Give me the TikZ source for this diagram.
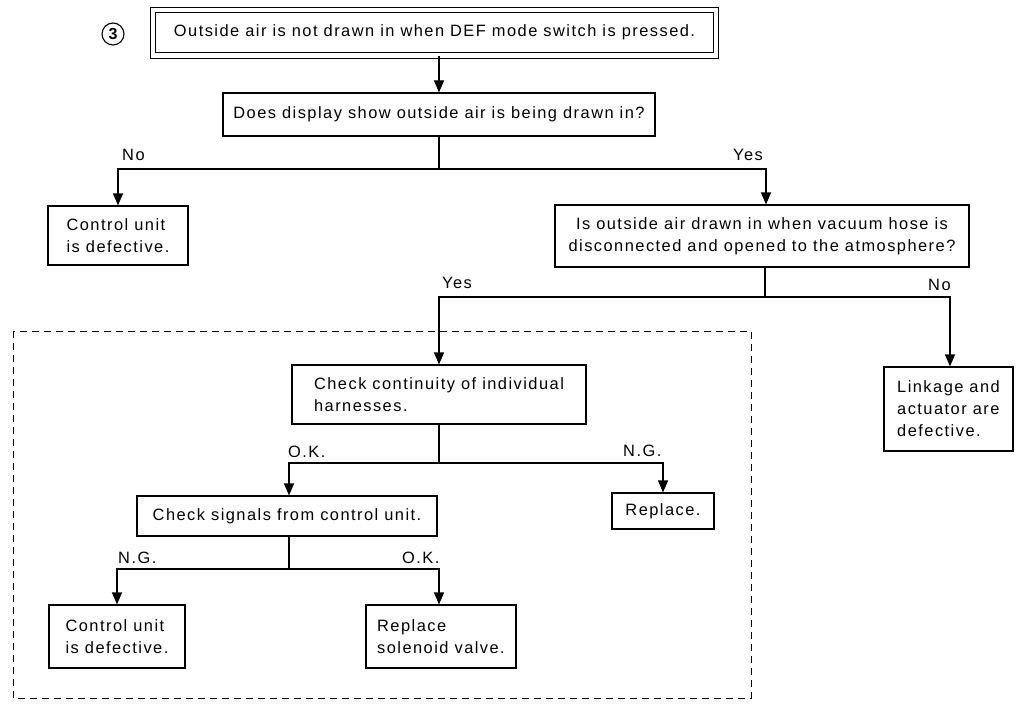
\documentclass[tikz,border=0pt]{standalone}
\usepackage{fontspec}
\setmainfont{Liberation Sans}[LetterSpace=9]
\usetikzlibrary{arrows.meta}
\newcommand{\fs}{\fontsize{16.4}{22}\selectfont}
\tikzset{
  box/.style={draw, line width=1.2pt, align=left, inner sep=0pt, font=\fs},
  lbl/.style={anchor=base west, inner sep=0pt, font=\fs},
  ln/.style={line width=1.2pt},
  arr/.style={line width=1.2pt, -{Triangle[width=10pt,length=12pt]}},
  frame/.style={line width=1pt, dash pattern=on 7pt off 5pt}
}
\begin{document}
\begin{tikzpicture}[x=1pt,y=-1pt]
\useasboundingbox[fill=white] (0,0) rectangle (1016,706);
% dashed frame
\draw[frame] (13,331) rectangle (751,698);
% circled number
\node[draw, circle, line width=1.1pt, inner sep=0pt, minimum size=22pt, font=\fontsize{16}{16}\selectfont\bfseries] (num) at (113,34) {3};
% boxes
\node[box, double, double distance=4.5pt, line width=1pt, minimum width=563pt, minimum height=45.5pt] (top) at (434.5,32.75) {Outside air is not drawn in when DEF mode switch is pressed.};
\node[box, minimum width=432pt, minimum height=43pt] (q1) at (439,114.5) {Does display show outside air is being drawn in?};
\node[box, minimum width=140pt, minimum height=59pt] (cu1) at (118,235.5) {Control unit\\is defective.};
\node[box, align=center, minimum width=414pt, minimum height=62pt] (q2) at (762,236) {Is outside air drawn in when vacuum hose is\\disconnected and opened to the atmosphere?};
\node[box, minimum width=129pt, minimum height=84pt] (link) at (948.5,409) {Linkage and\\actuator are\\defective.};
\node[box, minimum width=294pt, minimum height=59pt] (cont) at (439,394.5) {Check continuity of individual\\harnesses.};
\node[box, minimum width=102pt, minimum height=36pt] (repl) at (663,511) {Replace.};
\node[box, minimum width=300pt, minimum height=40pt] (sig) at (287,516) {Check signals from control unit.};
\node[box, minimum width=136pt, minimum height=63pt] (cu2) at (117,636.5) {Control unit\\is defective.};
\node[box, minimum width=150pt, minimum height=63pt] (sol) at (441,636.5) {Replace\\solenoid valve.};
% junctions
\coordinate (j1) at (439,169);
\coordinate (j2) at (765,297);
\coordinate (j3) at (439,463);
\coordinate (j4) at (289,569);
% connectors
\draw[arr] (q1.north |- top.south) -- (q1.north);
\draw[ln] (q1.south) -- (j1);
\draw[arr] (j1) -| (cu1.north);
\draw[arr] (j1) -| ([xshift=4pt]q2.north);
\draw[ln] (q2.south -| j2) -- (j2);
\draw[arr] (j2) -| ([xshift=1.5pt]link.north);
\draw[arr] (j2) -| (cont.north);
\draw[ln] (cont.south) -- (j3);
\draw[arr] (j3) -| (j4 |- sig.north);
\draw[arr] (j3) -| (repl.north);
\draw[ln] (j4 |- sig.south) -- (j4);
\draw[arr] (j4) -| (cu2.north);
\draw[arr] (j4) -| (j1 |- sol.north);
% labels
\node[lbl] (lno1) at (122,160) {No};
\node[lbl] (lyes1) at (733,160) {Yes};
\node[lbl] (lyes2) at (442,288) {Yes};
\node[lbl] (lno2) at (928,290) {No};
\node[lbl] (lok1) at (288,457) {O.K.};
\node[lbl] (lng1) at (623,456) {N.G.};
\node[lbl] (lng2) at (118,563) {N.G.};
\node[lbl] (lok2) at (402,563) {O.K.};
\end{tikzpicture}
\end{document}
